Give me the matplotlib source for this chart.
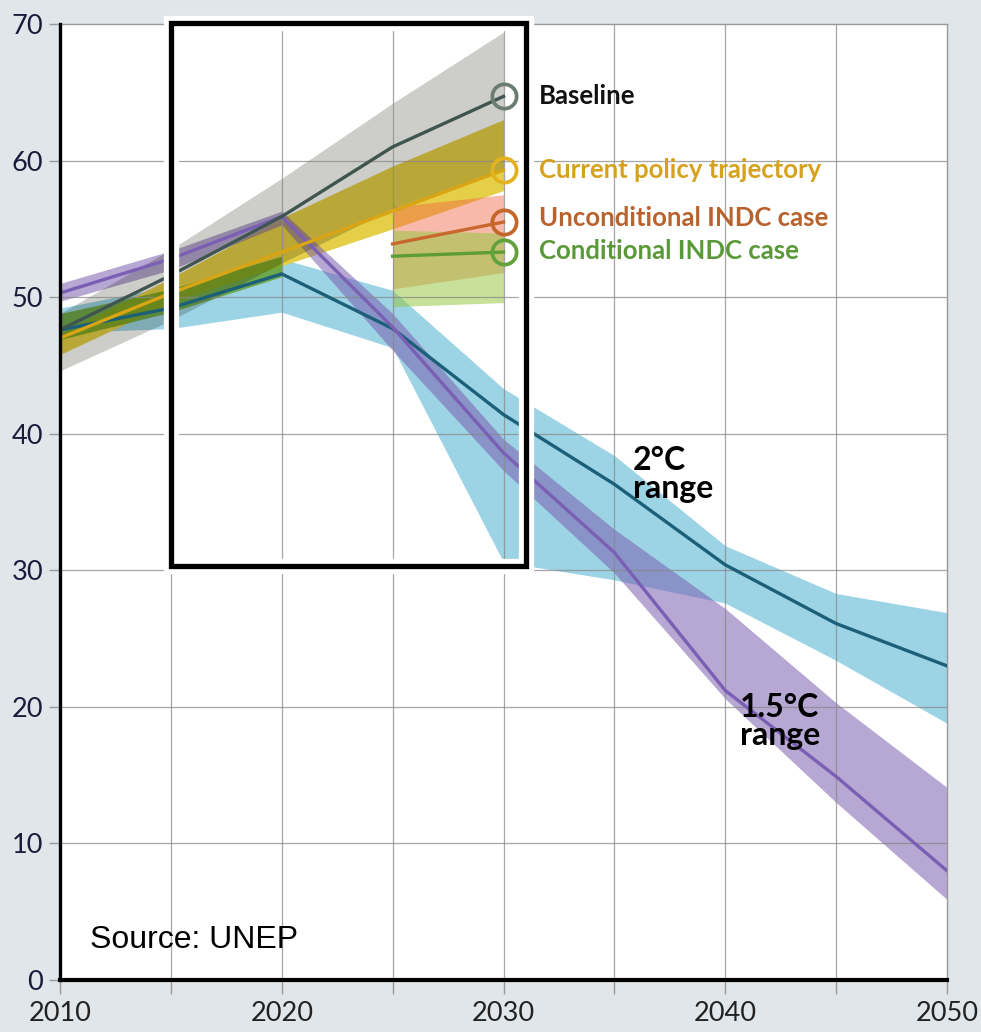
import numpy as np
import matplotlib
matplotlib.use("Agg")
import matplotlib.pyplot as plt
import matplotlib.patheffects as pe
from matplotlib.patches import Rectangle

# Global GHG emission pathways, GtCO2e/yr
years = [2010, 2015, 2020, 2025, 2030, 2035, 2040, 2045, 2050]
near_years = [2010, 2015, 2020, 2025, 2030]
hist_years = [2010, 2015, 2020]
indc_years = [2025, 2030]

baseline = [47.6, 51.6, 55.9, 61.0, 64.7]
baseline_hi = [48.8, 53.5, 58.7, 64.2, 69.4]
baseline_lo = [44.6, 48.3, 52.5, 56.5, 59.3]

current = [47.0, 50.3, 53.3, 56.3, 59.3]
current_hi = [47.3, 51.4, 55.8, 59.6, 63.0]
current_lo = [45.8, 49.6, 52.3, 55.0, 57.8]

hist_hi = [48.8, 50.6, 53.0]
hist_lo = [46.9, 48.9, 51.5]

uncond = [53.9, 55.5]
uncond_hi = [56.6, 57.5]
uncond_lo = [50.6, 51.8]

cond = [53.0, 53.3]
cond_hi = [54.9, 54.7]
cond_lo = [49.3, 49.6]

two_deg = [47.6, 49.2, 51.7, 47.7, 41.4, 36.3, 30.4, 26.1, 23.0]
two_deg_hi = [49.2, 50.8, 52.8, 50.5, 43.3, 38.4, 31.8, 28.3, 26.9]
two_deg_lo = [47.4, 47.7, 48.9, 46.3, 30.6, 29.3, 27.6, 23.4, 18.8]

one5_deg = [50.3, 52.8, 55.9, 47.8, 38.6, 31.3, 21.2, 14.9, 8.0]
one5_deg_hi = [51.0, 53.4, 56.3, 48.8, 39.6, 33.0, 27.2, 20.3, 14.1]
one5_deg_lo = [49.7, 52.0, 55.3, 46.1, 37.3, 29.8, 20.6, 13.0, 5.9]

case_labels = ["Baseline", "Current policy trajectory",
               "Unconditional INDC case", "Conditional INDC case"]
case_end = [baseline[-1], current[-1], uncond[-1], cond[-1]]
label_y = [64.7, 59.3, 55.8, 53.4]

BG = "#e0e6e9"
FONT = ["Lato", "DejaVu Sans"]
fig = plt.figure(figsize=(9.81, 10.32), dpi=100, facecolor=BG)
ax = fig.add_axes([60 / 981, 1 - 980 / 1032, 887 / 981, 956 / 1032])
ax.set_facecolor("white")

# ranges
ax.fill_between(years, two_deg_lo, two_deg_hi, color="#5ab8d5", alpha=0.6, lw=0, zorder=2)
ax.fill_between(near_years, current_lo, current_hi, color="#e6cf48", lw=0, zorder=2.1)
ax.fill_between(hist_years, hist_lo, hist_hi, color="#5f9a1a", alpha=0.75, lw=0, zorder=2.2)
ax.fill_between(indc_years, uncond_lo, uncond_hi, color="#f06446", alpha=0.45, lw=0, zorder=2.3)
ax.fill_between(indc_years, cond_lo, cond_hi, color="#97c840", alpha=0.53, lw=0, zorder=2.4)
ax.fill_between(years, one5_deg_lo, one5_deg_hi, color="#7a5fb0", alpha=0.55, lw=0, zorder=2.5)
ax.fill_between(near_years, baseline_lo, baseline_hi, color="#141400", alpha=0.21, lw=0, zorder=2.6)

# grid on top of the translucent bands
for x in range(2015, 2050, 5):
    ax.axvline(x, color="#888888", lw=0.9, alpha=0.75, zorder=3)
for y in range(10, 70, 10):
    ax.axhline(y, color="#888888", lw=0.9, alpha=0.75, zorder=3)
ax.axhline(70, color="#999999", lw=1.0, zorder=3, clip_on=False)
ax.axvline(2050, color="#999999", lw=1.0, zorder=3, clip_on=False)

# central pathways
ax.plot(years, two_deg, color="#1b5f78", lw=2.4, zorder=4)
ax.plot(years, one5_deg, color="#7b5fb5", lw=2.4, zorder=4)
ax.plot(near_years, baseline, color="#40554f", lw=2.4, zorder=4.1)
ax.plot(near_years, current, color="#d9a514", lw=2.4, zorder=4.1)
ax.plot(indc_years, uncond, color="#c8682c", lw=2.4, zorder=4.1)
ax.plot(indc_years, cond, color="#5e9c36", lw=2.4, zorder=4.1)

marker_cols = ["#6b7d73", "#e3b21f", "#c4662c", "#62a23c"]
text_cols = ["#111111", "#d6a11c", "#b8622e", "#5a9838"]
for v, ly, lab, mc, tc in zip(case_end, label_y, case_labels, marker_cols, text_cols):
    ax.plot([2030], [v], "o", mfc="none", mec=mc, ms=17.5, mew=2.7, zorder=5, clip_on=False)
    ax.text(2031.6, ly, lab, color=tc, fontsize=18.5, fontweight="bold",
            family=FONT, va="center", ha="left", zorder=6)

ax.text(2035.85, 37.0, "2°C\nrange", fontsize=23, fontweight="bold",
        family=FONT, va="center", ha="left", linespacing=0.95, zorder=6)
ax.text(2040.65, 18.9, "1.5°C\nrange", fontsize=23, fontweight="bold",
        family=FONT, va="center", ha="left", linespacing=0.95, zorder=6)

ax.text(2011.35, 2.95, "Source: UNEP", fontsize=23, family=["Liberation Sans", "DejaVu Sans"],
        va="center", ha="left", color="black", zorder=6)

# highlight box around the 2015-2030 window
box = Rectangle((2015, 30.3), 16.0, 39.8, fill=False, ec="black", lw=3.8, zorder=7,
                clip_on=False, joinstyle="miter")
box.set_path_effects([pe.Stroke(linewidth=11, foreground="white"), pe.Normal()])
ax.add_patch(box)

ax.set_xlim(2010, 2050)
ax.set_ylim(0, 70)
ax.set_xticks(range(2010, 2051, 10))
ax.set_xticks(range(2015, 2050, 10), minor=True)
ax.set_yticks(range(0, 71, 10))
for s in ["top", "right"]:
    ax.spines[s].set_visible(False)
ax.spines["left"].set_linewidth(2.4)
ax.spines["bottom"].set_linewidth(3.0)
ax.spines["left"].set_zorder(8)
ax.spines["bottom"].set_zorder(8)
ax.tick_params(axis="y", length=8, width=1, color="#999999", pad=4,
               labelsize=19.5, labelcolor="#1b1b3c")
ax.tick_params(axis="x", which="both", length=10, width=1, color="#999999", pad=5,
               labelsize=19.5, labelcolor="#222222")
for lab in ax.get_xticklabels() + ax.get_yticklabels():
    lab.set_family(FONT)

fig.savefig("out.png", dpi=100, facecolor=BG)
